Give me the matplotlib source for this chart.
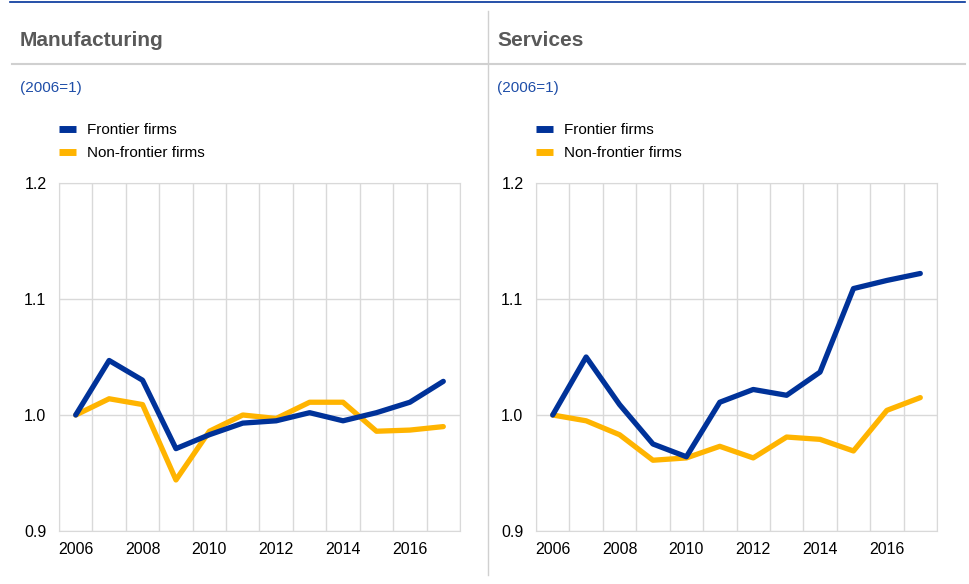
import numpy as np
import matplotlib.pyplot as plt
from matplotlib.lines import Line2D

plt.rcParams['font.family'] = ['Liberation Sans', 'DejaVu Sans']

years = list(range(2006, 2018))
year_labels = ["2006", "2008", "2010", "2012", "2014", "2016"]

# Manufacturing
manu_frontier = [1.000, 1.047, 1.030, 0.971, 0.983, 0.993, 0.995, 1.002, 0.995, 1.002, 1.011, 1.029]
manu_nonfrontier = [1.000, 1.014, 1.009, 0.944, 0.986, 1.000, 0.997, 1.011, 1.011, 0.986, 0.987, 0.990]

# Services
serv_frontier = [1.000, 1.050, 1.009, 0.975, 0.964, 1.011, 1.022, 1.017, 1.037, 1.109, 1.116, 1.122]
serv_nonfrontier = [1.000, 0.995, 0.983, 0.961, 0.963, 0.973, 0.963, 0.981, 0.979, 0.969, 1.004, 1.015]

panels = ["Manufacturing", "Services"]
series_names = ["Frontier firms", "Non-frontier firms"]

BLUE = '#003299'
YELLOW = '#ffb400'
GRID = '#d9d9d9'

W, H = 970, 584
fig = plt.figure(figsize=(W / 100, H / 100), dpi=100)

def fx(px):
    return px / W

def fy(py):
    return 1 - py / H

# frame decorations
fig.add_artist(Line2D([fx(10), fx(965)], [fy(2), fy(2)], color=BLUE, lw=1.2))
fig.add_artist(Line2D([fx(12), fx(965)], [fy(64), fy(64)], color='#d0d0d0', lw=1.5))
fig.add_artist(Line2D([fx(488), fx(488)], [fy(11), fy(575)], color='#d0d0d0', lw=1.0))

data = [(manu_frontier, manu_nonfrontier), (serv_frontier, serv_nonfrontier)]
lefts = [59, 536]
text_x = [20, 497]

for i, name in enumerate(panels):
    fig.text(fx(text_x[i]), fy(40), name, fontsize=15, fontweight='bold',
             color='#595959', va='center', ha='left')
    fig.text(fx(text_x[i]), fy(88), "(2006=1)", fontsize=11, color='#1f4ea8',
             va='center', ha='left')

    ax = fig.add_axes([fx(lefts[i]), fy(531), fx(401), (531 - 183) / H])
    x = np.arange(len(years))
    fr, nf = data[i]
    ax.plot(x, fr, color=BLUE, lw=3.8, solid_capstyle='round', zorder=3,
            label=series_names[0])
    ax.plot(x, nf, color=YELLOW, lw=3.8, solid_capstyle='round', zorder=2,
            label=series_names[1])

    ax.set_xlim(-0.5, len(years) - 0.5)
    ax.set_ylim(0.9, 1.2)
    ax.set_yticks([0.9, 1.0, 1.1, 1.2])
    ax.set_yticklabels(["0.9", "1.0", "1.1", "1.2"])
    ax.set_xticks([0, 2, 4, 6, 8, 10])
    ax.set_xticklabels(year_labels)
    ax.set_xticks(np.arange(-0.5, len(years)), minor=True)
    ax.grid(True, which='minor', axis='x', color=GRID, lw=1.0)
    ax.grid(True, which='major', axis='y', color=GRID, lw=1.0)
    ax.tick_params(which='both', length=0, labelsize=11.5, colors='#000000')
    ax.tick_params(axis='y', pad=9)
    ax.tick_params(axis='x', pad=8)
    for s in ax.spines.values():
        s.set_color(GRID)
    ax.set_axisbelow(True)

    leg = ax.legend(loc='upper left', bbox_to_anchor=(-0.015, 1.19), frameon=False,
                    fontsize=11, handlelength=1.1, handletextpad=0.7,
                    labelspacing=0.6, borderaxespad=0)
    for h in leg.legend_handles:
        h.set_linewidth(5)
        h.set_solid_capstyle('butt')

fig.savefig("out.png", dpi=100)
